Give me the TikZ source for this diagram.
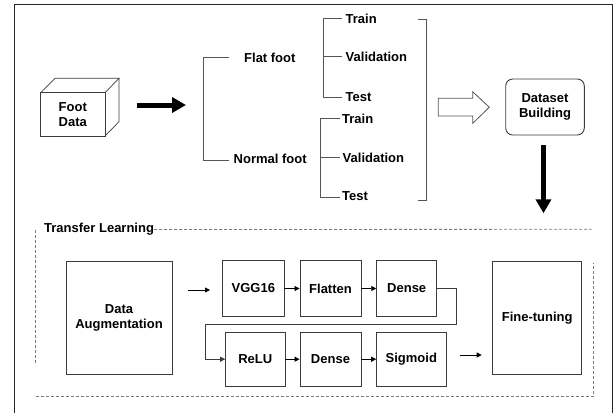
\documentclass[tikz,border=0pt]{standalone}
\usepackage{fontspec}
\setmainfont{Liberation Sans}
\usetikzlibrary{arrows.meta}
\definecolor{boxc}{HTML}{3C3C3C}
\definecolor{linec}{HTML}{555555}
\definecolor{dashc}{HTML}{7A7A7A}
\tikzset{
  lbl/.style={font=\fontsize{13}{15}\selectfont\bfseries, text=black, inner sep=0pt, align=center},
  blk/.style={draw=boxc, line width=0.9pt, lbl},
  brk/.style={draw=linec, line width=0.9pt},
  sarrow/.style={draw=black, line width=0.8pt, -{Triangle[length=5pt,width=5pt]}},
  barrow/.style={draw=black, line width=5pt, -{Triangle[length=14pt,width=15pt]}},
  dbox/.style={draw=dashc, line width=0.8pt, dash pattern=on 3pt off 2pt},
}
\begin{document}
\begin{tikzpicture}[x=1pt,y=-1pt]
\useasboundingbox (0,0) rectangle (616,413);
% outer frame (open at bottom)
\draw[draw=black!85, line width=1pt] (14.7,413) -- (14.7,4) -- (612.3,4) -- (612.3,413);

% cube
\draw[draw=boxc, line width=0.9pt, fill=white] (40.7,92.7) rectangle (105,136);
\draw[draw=boxc, line width=0.7pt] (40.7,92.7) -- (55,78.3) -- (119,78.3) -- (105,92.7);
\draw[draw=boxc, line width=0.7pt] (119,78.3) -- (119,121.7) -- (105,136);
\node[lbl] (foot) at (72.8,114.5) {Foot\\Data};
\coordinate (cubeE) at (136.7,105);
\coordinate (arrE) at (186,105);
\draw[barrow] (cubeE) -- (arrE);

% first bracket
\node[lbl, anchor=west] (flat) at (244,58) {Flat foot};
\node[lbl, anchor=west] (normal) at (233.5,158.5) {Normal foot};
\coordinate (b1t) at (203,57);
\coordinate (b1b) at (203,160);
\draw[brk] (229,57) -- (b1t) -- (b1b) -- (229,160);

% second bracket
\node[lbl, anchor=west] (tr1) at (345.5,18.5) {Train};
\node[lbl, anchor=west] (va1) at (345.5,56.5) {Validation};
\node[lbl, anchor=west] (te1) at (345.5,97) {Test};
\draw[brk] (341.7,18) -- (323.3,18) -- (323.3,97) -- (341.7,97);
\draw[brk] (323.3,56) -- (341.7,56);

% third bracket
\node[lbl, anchor=west] (tr2) at (342,118.5) {Train};
\node[lbl, anchor=west] (va2) at (342.5,157.5) {Validation};
\node[lbl, anchor=west] (te2) at (342,196.5) {Test};
\draw[brk] (340,118) -- (320.7,118) -- (320.7,197) -- (340,197);
\draw[brk] (320.7,157) -- (340,157);

% closing bracket
\draw[brk] (418.3,19) -- (426.7,19) -- (426.7,200) -- (418.3,200);

% hollow arrow
\draw[draw=linec, line width=0.8pt, fill=white]
  (438.3,98.3) -- (472.7,98.3) -- (472.7,91.7) -- (489.3,107.3) -- (472.7,123.3) -- (472.7,116) -- (438.3,116) -- cycle;

% dataset building
\node[blk, rounded corners=7pt, minimum width=78.6pt, minimum height=56pt] (ds) at (545,107) {Dataset\\Building};
\coordinate (dsArrEnd) at (543.5,213.3);
\draw[barrow] ([yshift=-10pt]ds.south -| dsArrEnd) -- (dsArrEnd);

% transfer learning dashed box
\node[lbl, anchor=west] (tl) at (44,229.5) {Transfer Learning};
\draw[dbox] (tl.east) -- (591.7,229.3);
\draw[dbox] (35.7,230) -- (35.7,365);
\draw[dbox] (35.7,396.7) -- (593,396.7) -- (593,263);

% boxes
\node[blk, minimum width=106pt, minimum height=112.3pt] (da) at (119,318) {Data\\Augmentation};
\node[blk, minimum width=61.3pt, minimum height=56.4pt] (vgg) at (253.3,288.5) {VGG16};
\node[blk, minimum width=61pt, minimum height=56.4pt] (flt) at (330.5,288.5) {Flatten};
\node[blk, minimum width=60pt, minimum height=56.4pt] (dn1) at (406.7,288.5) {Dense};
\node[blk, minimum width=59.3pt, minimum height=53.7pt] (relu) at (255.3,359.2) {ReLU};
\node[blk, minimum width=61pt, minimum height=53.7pt] (dn2) at (330.5,359.2) {Dense};
\node[blk, minimum width=69.3pt, minimum height=53.7pt] (sig) at (411.3,359.2) {Sigmoid};
\node[blk, minimum width=89pt, minimum height=112.3pt] (ft) at (537.2,318) {Fine-tuning};

% arrows
\coordinate (a1s) at (188,290);
\coordinate (a1e) at (210,290);
\draw[sarrow] (a1s) -- (a1e);
\draw[sarrow] (vgg.east) -- (flt.west);
\draw[sarrow] (flt.east) -- (dn1.west);
\draw[draw=boxc, line width=0.8pt, -{Triangle[length=5pt,width=5pt]}]
  (dn1.east) -- (456.7,288.5) -- (456.7,324) -- (205.7,324) -- (205.7,359.2) -- (relu.west);
\draw[sarrow] (relu.east) -- (dn2.west);
\draw[sarrow] (dn2.east) -- (sig.west);
\coordinate (a2s) at (460,355);
\coordinate (a2e) at (481.7,355);
\draw[sarrow] (a2s) -- (a2e);
\end{tikzpicture}
\end{document}
